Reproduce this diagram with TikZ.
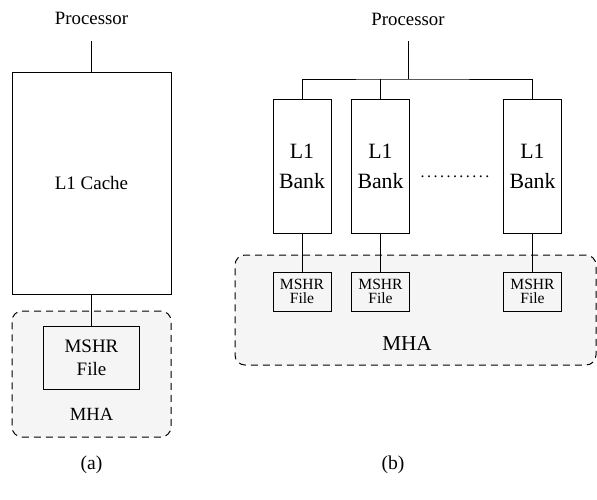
\documentclass[tikz,border=0pt]{standalone}
\usepackage{fontspec}
\setmainfont{Liberation Serif}
\usetikzlibrary{positioning,calc}

\begin{document}
\begin{tikzpicture}[
    x=0.5pt, y=-0.5pt,
    line width=0.5pt,
    box/.style={
        draw,
        rectangle,
        inner sep=0pt,
        align=center
    },
    cachebox/.style={box, minimum width=79.5pt, minimum height=111pt,
        font=\fontsize{9.5}{11.5}\selectfont},
    bankbox/.style={box, minimum width=29pt, minimum height=67pt,
        font=\fontsize{10.9}{15}\selectfont},
    mshrbig/.style={box, minimum width=48pt, minimum height=31.5pt,
        font=\fontsize{9.5}{11.5}\selectfont},
    mshrsmall/.style={box, minimum width=29pt, minimum height=19.5pt,
        font=\fontsize{7.8}{6.7}\selectfont},
    mha/.style={
        draw,
        dash pattern=on 3.5pt off 2.5pt,
        rounded corners=5pt,
        fill=gray!8,
        inner sep=0pt
    },
    lbl/.style={inner sep=0pt, font=\fontsize{9.4}{11}\selectfont}
]
\useasboundingbox (0,0) rectangle (597,499);

\def\ybank{166}
\def\ymshr{291.5}

% ============================================================
% (a) SINGLE L1 CACHE
% ============================================================

\node[mha, minimum width=79.5pt, minimum height=63pt] (mhaa) at (91.5,374) {};

\node[lbl] (proca) at (91.5,18) {Processor};
\coordinate (pa) at (91.5,41);

\node[cachebox] (cache) at (91.5,183) {L1 Cache};
\node[mshrbig] (mshra) at (91.5,357.5) {MSHR\\File};
\node[lbl, font=\fontsize{9.3}{11}\selectfont] (mhaatext) at (91.5,414) {MHA};

\draw (pa) -- (cache.north);
\draw (cache.south) -- (mshra.north);

\node[lbl, font=\fontsize{9.8}{11}\selectfont] (capa) at (91.5,465) {(a)};

% ============================================================
% (b) BANKED L1 CACHE
% ============================================================

\node[mha, minimum width=180.5pt, minimum height=55pt] (mhab) at (415.5,310) {};

\node[lbl] (procb) at (408,19) {Processor};
\coordinate (pb) at (408,41);
\coordinate (bus) at (408,79);

\foreach \i/\x in {1/302,2/380.5,3/532.5} {
    \node[bankbox] (bank\i) at (\x,\ybank) {L1\\Bank};
    \node[mshrsmall] (mshr\i) at (\x,\ymshr) {MSHR\\File};
    \draw (bank\i.south) -- (mshr\i.north);
}

\node[inner sep=0pt, anchor=base, font=\fontsize{8}{10}\selectfont]
    (dots) at (455,177)
    {\makebox[35.5pt]{\xleaders\hbox to 3.22pt{\hss.\hss}\hfill}};

\draw (pb) -- (bus);
\draw (bank1.north) |- (bus) -| (bank3.north);
\draw (bank2.north) -- (bank2.north |- bus);

\node[lbl, font=\fontsize{10.6}{12}\selectfont] (mhabtext) at (407,343) {MHA};

\node[lbl, font=\fontsize{9.8}{11}\selectfont] (capb) at (393,465) {(b)};

\end{tikzpicture}
\end{document}
